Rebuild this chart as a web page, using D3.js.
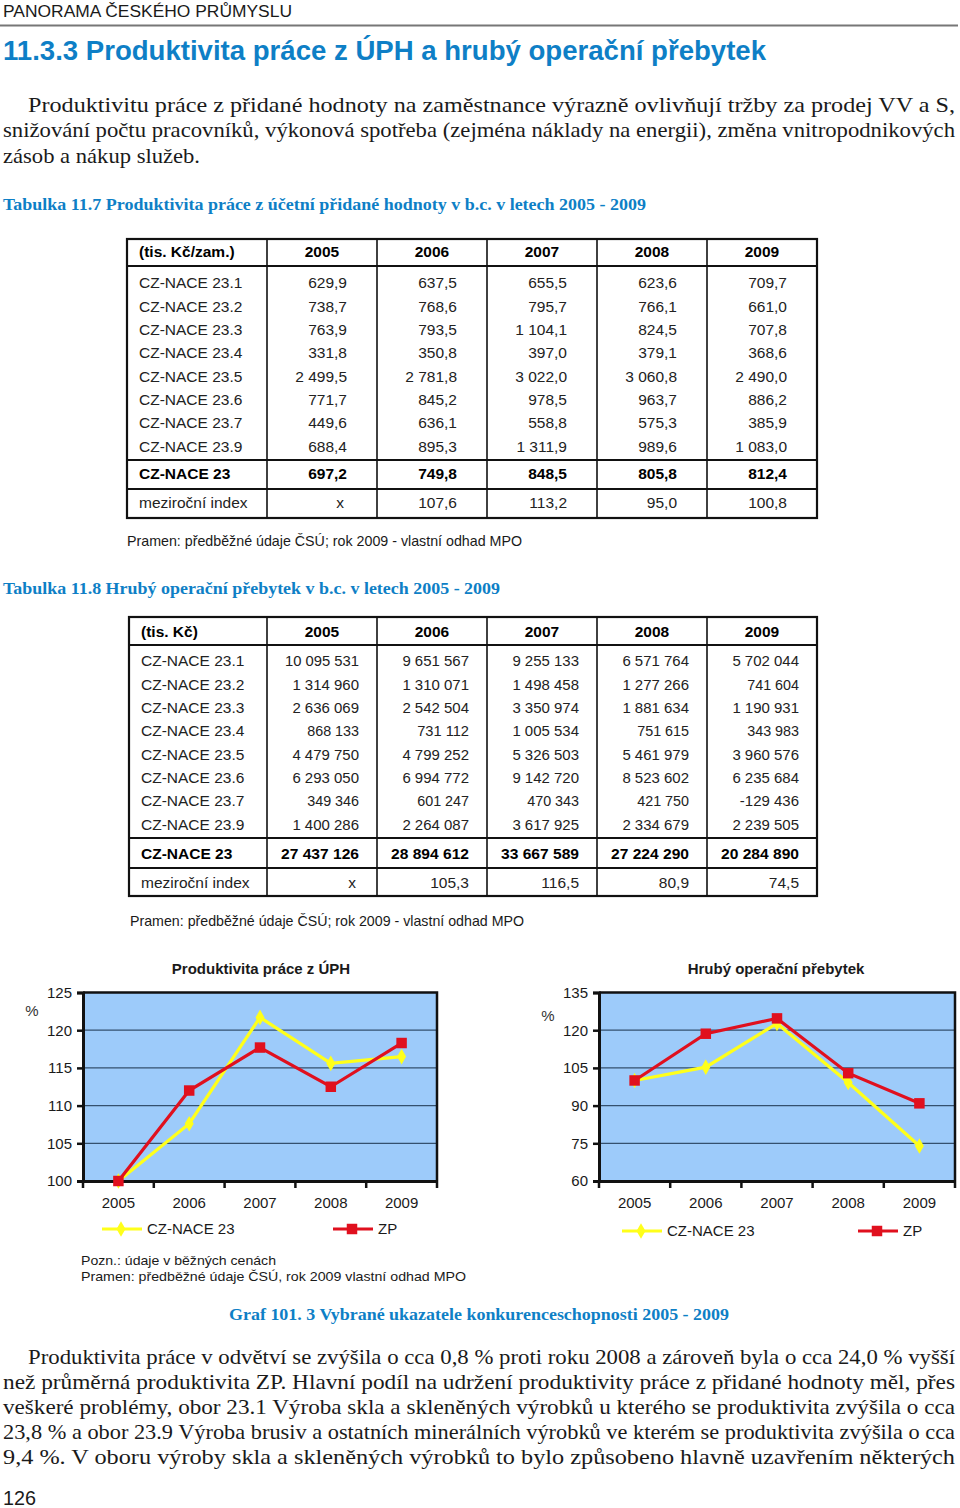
<!DOCTYPE html>
<html>
<head>
<meta charset="utf-8">
<style>
  body { margin: 0; background: #fff; }
  svg { display: block; }
  .sans { font-family: "Liberation Sans", Arial, sans-serif; }
  .serif { font-family: "Liberation Serif", "Times New Roman", serif; }
</style>
</head>
<body>
<svg width="960" height="1508"></svg>
<script src="https://d3js.org/d3.v7.min.js"></script>
<script>
  // ---- data ----
  var years = ["2005", "2006", "2007", "2008", "2009"];
  var rowLabels = ["CZ-NACE 23.1", "CZ-NACE 23.2", "CZ-NACE 23.3", "CZ-NACE 23.4",
                   "CZ-NACE 23.5", "CZ-NACE 23.6", "CZ-NACE 23.7", "CZ-NACE 23.9"];

  // Tabulka 11.7 (tis. Kč/zam.)
  var prod = [
    [629.9, 637.5, 655.5, 623.6, 709.7],
    [738.7, 768.6, 795.7, 766.1, 661.0],
    [763.9, 793.5, 1104.1, 824.5, 707.8],
    [331.8, 350.8, 397.0, 379.1, 368.6],
    [2499.5, 2781.8, 3022.0, 3060.8, 2490.0],
    [771.7, 845.2, 978.5, 963.7, 886.2],
    [449.6, 636.1, 558.8, 575.3, 385.9],
    [688.4, 895.3, 1311.9, 989.6, 1083.0]
  ];
  var prodTotal = [697.2, 749.8, 848.5, 805.8, 812.4];
  var prodIndex = [null, 107.6, 113.2, 95.0, 100.8];

  // Tabulka 11.8 (tis. Kč)
  var surplus = [
    [10095531, 9651567, 9255133, 6571764, 5702044],
    [1314960, 1310071, 1498458, 1277266, 741604],
    [2636069, 2542504, 3350974, 1881634, 1190931],
    [868133, 731112, 1005534, 751615, 343983],
    [4479750, 4799252, 5326503, 5461979, 3960576],
    [6293050, 6994772, 9142720, 8523602, 6235684],
    [349346, 601247, 470343, 421750, -129436],
    [1400286, 2264087, 3617925, 2334679, 2239505]
  ];
  var surplusTotal = [27437126, 28894612, 33667589, 27224290, 20284890];
  var surplusIndex = [null, 105.3, 116.5, 80.9, 74.5];

  // Graf: index 2005 = 100
  var prodNace = [100, 107.6, 121.7, 115.6, 116.5];
  var prodZP = [100, 112.0, 117.7, 112.5, 118.3];
  var prodTicks = [100, 105, 110, 115, 120, 125];
  var surpNace = [100, 105.3, 122.7, 99.2, 73.9];
  var surpZP = [100, 118.6, 124.7, 102.9, 90.9];
  var surpTicks = [60, 75, 90, 105, 120, 135];

  var blue = "#0e7fc6";
  var svg = d3.select("svg");

  var cz = d3.formatLocale({decimal: ",", thousands: " ", grouping: [3], currency: ["", ""], minus: "-"});

  // ---- page texts ----
  function txt(x, y, s, cls, size, opts) {
    opts = opts || {};
    var t = svg.append("text").attr("class", cls).attr("x", x).attr("y", y)
      .attr("font-size", size).attr("fill", opts.fill || "#1a1a1a").text(s);
    if (opts.bold) t.attr("font-weight", "bold");
    if (opts.len) t.attr("textLength", opts.len).attr("lengthAdjust", "spacingAndGlyphs");
    if (opts.anchor) t.attr("text-anchor", opts.anchor);
    return t;
  }

  txt(3, 17, "PANORAMA ČESKÉHO PRŮMYSLU", "sans", 16, {len: 289});
  svg.append("line").attr("x1", 0).attr("x2", 958).attr("y1", 25.5).attr("y2", 25.5)
    .attr("stroke", "#777").attr("stroke-width", 2);
  txt(3, 60, "11.3.3 Produktivita práce z ÚPH a hrubý operační přebytek", "sans", 27, {bold: true, fill: blue, len: 763});

  txt(28, 112, "Produktivitu práce z přidané hodnoty na zaměstnance výrazně ovlivňují tržby za prodej VV a S,", "serif", 21, {len: 927});
  txt(3, 137, "snižování počtu pracovníků, výkonová spotřeba (zejména náklady na energii), změna vnitropodnikových", "serif", 21, {len: 952});
  txt(3, 163, "zásob a nákup služeb.", "serif", 21, {len: 197});

  txt(3, 210, "Tabulka 11.7 Produktivita práce z účetní přidané hodnoty v b.c. v letech 2005 - 2009", "serif", 17, {bold: true, fill: blue, len: 643});
  txt(3, 594, "Tabulka 11.8 Hrubý operační přebytek v b.c. v letech 2005 - 2009", "serif", 17, {bold: true, fill: blue, len: 497});

  txt(127, 546, "Pramen: předběžné údaje ČSÚ; rok 2009 - vlastní odhad MPO", "sans", 14.5, {len: 395});
  txt(130, 926, "Pramen: předběžné údaje ČSÚ; rok 2009 - vlastní odhad MPO", "sans", 14.5, {len: 394});

  txt(81, 1265, "Pozn.: údaje v běžných cenách", "sans", 13.5, {len: 195});
  txt(81, 1281, "Pramen: předběžné údaje ČSÚ, rok 2009 vlastní odhad MPO", "sans", 13.5, {len: 385});
  txt(479, 1320, "Graf 101. 3 Vybrané ukazatele konkurenceschopnosti 2005 - 2009", "serif", 17, {bold: true, fill: blue, len: 500, anchor: "middle"});

  txt(28, 1364, "Produktivita práce v odvětví se zvýšila o cca 0,8 % proti roku 2008 a zároveň byla o cca 24,0 % vyšší", "serif", 21, {len: 927});
  txt(3, 1389, "než průměrná produktivita ZP. Hlavní podíl na udržení produktivity práce z přidané hodnoty měl, přes", "serif", 21, {len: 952});
  txt(3, 1414, "veškeré problémy, obor 23.1 Výroba skla a skleněných výrobků u kterého se produktivita zvýšila o cca", "serif", 21, {len: 952});
  txt(3, 1439, "23,8 % a obor 23.9 Výroba brusiv a ostatních minerálních výrobků ve kterém se produktivita zvýšila o cca", "serif", 21, {len: 952});
  txt(3, 1464, "9,4 %. V oboru výroby skla a skleněných výrobků to bylo způsobeno hlavně uzavřením některých", "serif", 21, {len: 952});
  txt(3, 1505, "126", "sans", 20, {len: 33});

  // ---- tables ----
  function drawTable(cfg) {
    var g = svg.append("g").attr("class", "sans");
    var edges = [cfg.left, 267, 377, 487, 597, 707, 817];
    var col = d3.scaleBand().domain(years).range([267, 817]);
    var body = d3.scaleBand().domain(rowLabels).range([cfg.bodyTop, cfg.bodyBottom]);
    var fs = 15.5;
    var rx = function(j) { return col(years[j]) + col.bandwidth() - cfg.pad; };

    // header
    g.append("text").attr("x", cfg.left + 12).attr("y", cfg.headY).attr("dy", "0.35em")
      .attr("font-size", fs).attr("font-weight", "bold").text(cfg.unit);
    g.selectAll(".hd").data(years).enter().append("text")
      .attr("x", function(d) { return col(d) + col.bandwidth() / 2; })
      .attr("y", cfg.headY).attr("dy", "0.35em").attr("text-anchor", "middle")
      .attr("font-size", fs).attr("font-weight", "bold").text(function(d) { return d; });

    // body rows
    var rows = g.selectAll(".row").data(cfg.values).enter().append("g")
      .attr("transform", function(d, i) { return "translate(0," + (body(rowLabels[i]) + body.bandwidth() / 2) + ")"; });
    rows.append("text").attr("x", cfg.left + 12).attr("dy", "0.35em").attr("font-size", fs)
      .attr("fill", "#222").text(function(d, i) { return rowLabels[i]; });
    rows.selectAll(".v").data(function(d) { return d; }).enter().append("text")
      .attr("x", function(d, j) { return rx(j); })
      .attr("dy", "0.35em").attr("text-anchor", "end").attr("font-size", fs).attr("fill", "#222")
      .attr("textLength", cfg.squeeze ? function(d) { return cz.format(cfg.fmt)(d).length * 7.4; } : null)
      .attr("lengthAdjust", "spacingAndGlyphs")
      .text(function(d) { return cz.format(cfg.fmt)(d); });

    // total row
    g.append("text").attr("x", cfg.left + 12).attr("y", cfg.totY).attr("dy", "0.35em")
      .attr("font-size", fs).attr("font-weight", "bold").text("CZ-NACE 23");
    g.selectAll(".tot").data(cfg.total).enter().append("text")
      .attr("x", function(d, j) { return rx(j); })
      .attr("y", cfg.totY).attr("dy", "0.35em").attr("text-anchor", "end")
      .attr("font-size", fs).attr("font-weight", "bold")
      .attr("textLength", cfg.squeeze ? 78 : null).attr("lengthAdjust", "spacingAndGlyphs")
      .text(function(d) { return cz.format(cfg.fmt)(d); });

    // index row
    g.append("text").attr("x", cfg.left + 12).attr("y", cfg.idxY).attr("dy", "0.35em")
      .attr("font-size", fs).attr("fill", "#222").text("meziroční index");
    g.selectAll(".idx").data(cfg.index).enter().append("text")
      .attr("x", function(d, j) { return rx(j) - (d == null ? 3 : 0); })
      .attr("y", cfg.idxY).attr("dy", "0.35em").attr("text-anchor", "end")
      .attr("font-size", fs).attr("fill", "#222")
      .text(function(d) { return d == null ? "x" : cz.format(",.1f")(d); });

    // grid lines
    g.append("rect").attr("x", cfg.left).attr("y", cfg.top)
      .attr("width", 817 - cfg.left).attr("height", cfg.bottom - cfg.top)
      .attr("fill", "none").attr("stroke", "#111").attr("stroke-width", 2.2);
    g.selectAll(".vl").data(edges.slice(1, 6)).enter().append("line")
      .attr("x1", function(d) { return d; }).attr("x2", function(d) { return d; })
      .attr("y1", cfg.top).attr("y2", cfg.bottom).attr("stroke", "#111").attr("stroke-width", 1.6);
    g.selectAll(".hl").data(cfg.hlines).enter().append("line")
      .attr("x1", cfg.left).attr("x2", 817)
      .attr("y1", function(d) { return d; }).attr("y2", function(d) { return d; })
      .attr("stroke", "#111").attr("stroke-width", 2.2);
  }

  drawTable({
    left: 127, top: 239, bottom: 518, headY: 252, bodyTop: 271, bodyBottom: 458,
    totY: 474, idxY: 503, hlines: [266, 460, 489], pad: 30,
    unit: "(tis. Kč/zam.)", values: prod, total: prodTotal, index: prodIndex, fmt: ",.1f"
  });
  drawTable({
    left: 129, top: 617, bottom: 896, headY: 632, bodyTop: 649, bodyBottom: 836,
    totY: 854, idxY: 883, hlines: [645, 838, 868], pad: 18, squeeze: true,
    unit: "(tis. Kč)", values: surplus, total: surplusTotal, index: surplusIndex, fmt: ",d"
  });

  // ---- line charts ----
  function drawChart(cfg) {
    var g = svg.append("g").attr("class", "sans");
    var x = d3.scaleBand().domain(years).range([cfg.x0, cfg.x1]);
    var y = d3.scaleLinear().domain(cfg.domain).range([1181, 992.5]);
    var cx = function(d, i) { return x(years[i]) + x.bandwidth() / 2; };

    g.append("text").attr("x", cfg.titleX).attr("y", 974).attr("text-anchor", "middle")
      .attr("font-size", 15).attr("font-weight", "bold").attr("fill", "#1a1a1a").text(cfg.title);

    g.append("rect").attr("x", cfg.x0).attr("y", y(cfg.domain[1]))
      .attr("width", cfg.x1 - cfg.x0).attr("height", y(cfg.domain[0]) - y(cfg.domain[1]))
      .attr("fill", "#9dcbfa");

    g.selectAll(".grid").data(cfg.ticks.slice(1, -1)).enter().append("line")
      .attr("x1", cfg.x0).attr("x2", cfg.x1)
      .attr("y1", function(d) { return y(d); }).attr("y2", function(d) { return y(d); })
      .attr("stroke", "#34506e").attr("stroke-width", 1.3);

    // frame
    g.append("path")
      .attr("d", "M" + cfg.x0 + "," + y(cfg.domain[1]) + "H" + cfg.x1 + "V" + y(cfg.domain[0]))
      .attr("fill", "none").attr("stroke", "#111").attr("stroke-width", 2.5);

    // y axis
    var ya = g.append("g").attr("transform", "translate(" + cfg.x0 + ",0)")
      .call(d3.axisLeft(y).tickValues(cfg.ticks).tickSize(6).tickPadding(5).tickFormat(d3.format("d")));
    ya.select(".domain").attr("stroke", "#111").attr("stroke-width", 3);
    ya.selectAll(".tick line").attr("stroke", "#111").attr("stroke-width", 2.5);
    ya.selectAll("text").attr("font-size", 15).attr("fill", "#1a1a1a")
      .attr("font-family", "Liberation Sans, Arial, sans-serif");

    // x axis
    var xa = g.append("g").attr("transform", "translate(0,1181)")
      .call(d3.axisBottom(x).tickSize(0).tickPadding(16));
    xa.select(".domain").attr("stroke", "#111").attr("stroke-width", 3);
    xa.selectAll("text").attr("font-size", 15).attr("fill", "#1a1a1a")
      .attr("font-family", "Liberation Sans, Arial, sans-serif");
    var bounds = years.map(function(d) { return x(d); }).concat([cfg.x1]);
    xa.selectAll(".bt").data(bounds).enter().append("line")
      .attr("x1", function(d) { return d; }).attr("x2", function(d) { return d; })
      .attr("y1", 0).attr("y2", 7).attr("stroke", "#111").attr("stroke-width", 2.5);

    g.append("text").attr("x", cfg.pctX).attr("y", cfg.pctY).attr("dy", "0.35em")
      .attr("text-anchor", "middle").attr("font-size", 15).attr("fill", "#333").text("%");

    var line = d3.line().x(cx).y(function(d) { return y(d); });
    var series = [
      {vals: cfg.nace, color: "#ffff1a", marker: "diamond"},
      {vals: cfg.zp, color: "#e0101e", marker: "square"}
    ];
    series.forEach(function(s) {
      g.append("path").datum(s.vals).attr("d", line).attr("fill", "none")
        .attr("stroke", s.color).attr("stroke-width", 3.2).attr("stroke-linejoin", "miter");
      g.selectAll(".m").data(s.vals).enter().append("path")
        .attr("transform", function(d, i) { return "translate(" + cx(d, i) + "," + y(d) + ")"; })
        .attr("d", s.marker === "square" ? d3.symbol(d3.symbolSquare, 110) : d3.symbol(d3.symbolDiamond, 70))
        .attr("fill", s.color);
    });

    // legend
    var lg = g.append("g").attr("transform", "translate(0," + cfg.legY + ")");
    cfg.legend.forEach(function(L, i) {
      var s = series[i];
      lg.append("line").attr("x1", L.x).attr("x2", L.x + 40).attr("stroke", s.color).attr("stroke-width", 3.2);
      lg.append("path").attr("transform", "translate(" + (L.x + 19) + ",0)")
        .attr("d", s.marker === "square" ? d3.symbol(d3.symbolSquare, 110) : d3.symbol(d3.symbolDiamond, 70))
        .attr("fill", s.color);
      lg.append("text").attr("x", L.x + 45).attr("dy", "0.35em").attr("font-size", 15)
        .attr("fill", "#1a1a1a").text(L.label);
    });
  }

  drawChart({
    x0: 83, x1: 437, domain: [100, 125], ticks: prodTicks, nace: prodNace, zp: prodZP,
    title: "Produktivita práce z ÚPH", titleX: 261, pctX: 32, pctY: 1011, legY: 1229,
    legend: [{x: 102, label: "CZ-NACE 23"}, {x: 333, label: "ZP"}]
  });
  drawChart({
    x0: 599, x1: 955, domain: [60, 135], ticks: surpTicks, nace: surpNace, zp: surpZP,
    title: "Hrubý operační přebytek", titleX: 776, pctX: 548, pctY: 1016, legY: 1231,
    legend: [{x: 622, label: "CZ-NACE 23"}, {x: 858, label: "ZP"}]
  });
</script>
</body>
</html>
